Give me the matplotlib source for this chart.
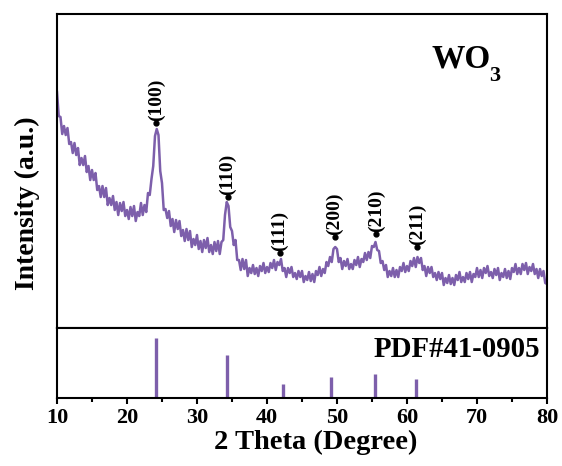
import numpy as np
import matplotlib
matplotlib.use('Agg')
from matplotlib import pyplot as plt
from matplotlib.ticker import MultipleLocator

plt.rcParams['font.family'] = ['Liberation Serif', 'DejaVu Serif']
plt.rcParams['font.weight'] = 'bold'

# measured pattern, 10-80 deg in 0.25 deg steps (intensity in a.u.)
intensity = [
    236, 212, 211, 194, 202, 193, 200, 184, 186, 175, 185, 173, 180, 163, 170, 163,   # 10-13
    172, 156, 162, 148, 158, 148, 155, 138, 142, 131, 142, 131, 140, 123, 130, 123,   # 14-17
    132, 118, 126, 113, 125, 117, 126, 112, 118, 109, 121, 112, 122, 107, 116, 112,   # 18-21
    125, 113, 123, 116, 135, 133, 149, 162, 192, 199, 193, 157, 145, 118, 119, 110,   # 22-25
    117, 102, 109, 96, 108, 99, 107, 92, 98, 87, 99, 88, 97, 81, 89, 83,              # 26-29
    93, 79, 87, 76, 88, 80, 90, 76, 83, 74, 86, 77, 87, 74, 86, 88,                   # 30-33
    113, 126, 122, 101, 97, 83, 88, 68, 68, 58, 69, 59, 68, 52, 60, 55,               # 34-37
    63, 54, 60, 52, 62, 57, 65, 55, 61, 56, 65, 60, 68, 58, 66, 63,                   # 38-41
    69, 57, 60, 51, 60, 55, 61, 51, 55, 49, 57, 51, 57, 46, 52, 48,                   # 42-45
    56, 47, 54, 46, 57, 53, 61, 52, 59, 55, 66, 62, 71, 66, 79, 81,                   # 46-49
    79, 66, 70, 59, 67, 62, 69, 59, 64, 59, 68, 63, 71, 61, 69, 66,                   # 50-53
    75, 68, 76, 70, 82, 81, 86, 78, 77, 65, 67, 58, 63, 51, 57, 52,                   # 54-57
    60, 51, 58, 51, 61, 57, 65, 56, 62, 57, 67, 62, 70, 61, 71, 65,                   # 58-61
    70, 58, 62, 52, 61, 55, 61, 51, 55, 48, 56, 49, 55, 43, 50, 45,                   # 62-65
    53, 44, 50, 43, 53, 48, 56, 46, 51, 46, 55, 49, 56, 46, 54, 51,                   # 66-69
    60, 51, 58, 50, 60, 55, 62, 52, 56, 50, 59, 53, 60, 48, 55, 51,                   # 70-73
    59, 50, 57, 49, 60, 56, 64, 54, 60, 54, 64, 58, 65, 54, 61, 57,                   # 74-77
    64, 54, 59, 50, 59, 52, 57, 45, 44,                                               # 78-80
]
two_theta = np.linspace(10, 80, len(intensity))

# labelled peaks
peak_labels = ['(100)', '(110)', '(111)', '(200)', '(210)', '(211)']
peak_pos = [24.2, 34.4, 41.8, 49.7, 55.6, 61.5]
peak_height = [205, 131, 75, 91, 94, 81]

# PDF#41-0905 reference lines
ref_pos = [24.1, 34.3, 42.3, 49.1, 55.4, 61.3]
ref_int = [100, 72, 23, 35, 40, 32]

purple = '#7d5fab'

fig = plt.figure(figsize=(5.62, 4.66), dpi=100)
ax1 = fig.add_axes([0.1014, 0.2961, 0.8719, 0.6738])
ax2 = fig.add_axes([0.1014, 0.1459, 0.8719, 0.1502])

ax1.plot(two_theta, intensity, color=purple, lw=1.8)
ax1.plot(peak_pos, peak_height, 'o', color='black', ms=3.5)
for lab, x, y in zip(peak_labels, peak_pos, peak_height):
    ax1.annotate(lab, (x, y), xytext=(0, 1.5), textcoords='offset points',
                 rotation=90, ha='center', va='bottom', fontsize=14, fontweight='bold')
ax1.text(0.765, 0.831, 'WO', transform=ax1.transAxes,
         fontsize=24, fontweight='bold', ha='left', va='baseline')
ax1.text(0.882, 0.787, '3', transform=ax1.transAxes,
         fontsize=16, fontweight='bold', ha='left', va='baseline')
ax1.set_xlim(10, 80)
ax1.set_ylim(0, 314)
ax1.set_xticks([])
ax1.set_yticks([])

ax2.vlines(ref_pos, 0, ref_int, color=purple, lw=2.4)
ax2.text(0.986, 0.586, 'PDF#41-0905', transform=ax2.transAxes,
         fontsize=20.8, fontweight='bold', ha='right', va='baseline')
ax2.set_xlim(10, 80)
ax2.set_ylim(0, 116.7)
ax2.set_yticks([])
ax2.xaxis.set_major_locator(MultipleLocator(10))
ax2.xaxis.set_minor_locator(MultipleLocator(5))
ax2.tick_params(axis='x', which='major', direction='out', length=4, width=1.5, labelsize=16, pad=3)
ax2.tick_params(axis='x', which='minor', direction='out', length=3, width=1.5)
ax2.set_xlabel('2 Theta (Degree)', fontsize=20.5, fontweight='bold', labelpad=0)
ax2.xaxis.set_label_coords(0.527, -0.45)
ax2.xaxis.label.set_va('top')

for ax in (ax1, ax2):
    for sp in ax.spines.values():
        sp.set_linewidth(1.5)

fig.text(0.048, 0.564, 'Intensity (a.u.)', rotation=90, ha='center', va='center',
         fontsize=20, fontweight='bold')

plt.savefig('out.png', dpi=100)
